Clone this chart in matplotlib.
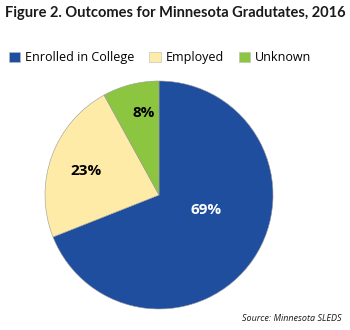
import numpy as np
import matplotlib
matplotlib.use('Agg')
import matplotlib.pyplot as plt
from matplotlib.patches import Patch

# outcomes for minnesota graduates, 2016 (share of graduates)
labels = ["Enrolled in College", "Employed", "Unknown"]
values = [69, 23, 8]
colors = ["#1f4e9f", "#fdeba7", "#8cc540"]
label_colors = ["white", "black", "black"]
# label placement: distance from centre and angle shift from wedge middle
label_dist = [0.43, 0.67, 0.73]
label_shift = [16, 1.5, -3.5]

plt.rcParams['font.family'] = ['Open Sans', 'DejaVu Sans']

fig = plt.figure(figsize=(3.5, 3.3), dpi=100)
fig.text(0.5, 0.962, "Figure 2. Outcomes for Minnesota Gradutates, 2016",
         ha="center", va="center", fontsize=10.5, fontweight="bold", color="#1a1a1a",
         family=["Lato", "DejaVu Sans"])

ax = fig.add_axes([45/350, 21/330, 228/350, 228/330])
wedges, texts, autotexts = ax.pie(values, colors=colors, startangle=90, counterclock=False,
                                  autopct="%d%%", pctdistance=0.6,
                                  wedgeprops=dict(edgecolor="#999999", linewidth=0.4))
ax.set_aspect("equal")
ax.set_xlim(-1, 1)
ax.set_ylim(-1, 1)

for w, t, c, d, s in zip(wedges, autotexts, label_colors, label_dist, label_shift):
    ang = np.deg2rad((w.theta1 + w.theta2) / 2 + s)
    t.set_position((d * np.cos(ang), d * np.sin(ang)))
    t.set_color(c)
    t.set_fontsize(11)
    t.set_fontweight("bold")

handles = [Patch(facecolor=c, edgecolor="#bbbbbb", linewidth=0.4) for c in colors]
fig.legend(handles, labels, loc="center left", bbox_to_anchor=(0.0, 0.825), ncol=3,
           frameon=False, fontsize=9, handlelength=0.9, handleheight=0.9,
           handletextpad=0.4, columnspacing=1.2, borderaxespad=0.3)

fig.text(0.975, 0.036, "Source: Minnesota SLEDS", ha="right", va="center",
         fontsize=6.5, style="italic", color="#1a1a1a")

fig.savefig("out.png", dpi=100)
